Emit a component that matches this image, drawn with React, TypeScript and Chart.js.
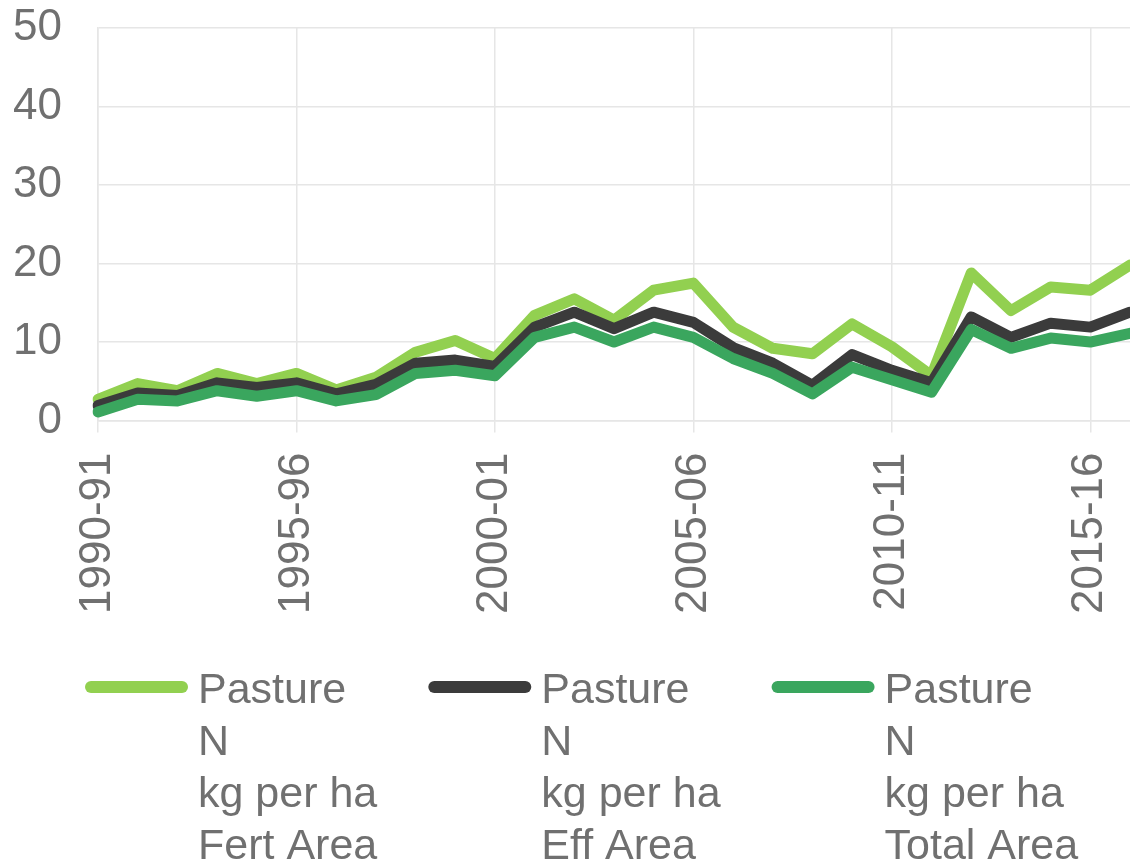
import React, { useEffect, useRef } from 'react';
import { Chart, registerables } from 'chart.js';

Chart.register(...registerables);

const categories = [
  '1990-91', '1991-92', '1992-93', '1993-94', '1994-95',
  '1995-96', '1996-97', '1997-98', '1998-99', '1999-00',
  '2000-01', '2001-02', '2002-03', '2003-04', '2004-05',
  '2005-06', '2006-07', '2007-08', '2008-09', '2009-10',
  '2010-11', '2011-12', '2012-13', '2013-14', '2014-15',
  '2015-16', '2016-17',
];

const fertArea = [
  2.7, 4.7, 3.8, 6.0, 4.7, 6.0, 3.9, 5.5, 8.7, 10.2,
  7.9, 13.4, 15.5, 12.8, 16.6, 17.5, 11.9, 9.2, 8.5, 12.3,
  9.4, 5.7, 18.8, 14.0, 17.0, 16.6, 19.8,
];
const effArea = [
  1.9, 3.5, 3.2, 4.8, 4.2, 4.8, 3.4, 4.6, 7.3, 7.7,
  6.9, 11.9, 13.8, 11.7, 13.8, 12.5, 9.3, 7.3, 4.5, 8.4,
  6.4, 4.8, 13.2, 10.6, 12.4, 11.9, 13.8,
];
const totalArea = [
  1.1, 2.7, 2.5, 3.8, 3.1, 3.8, 2.5, 3.3, 6.0, 6.4,
  5.7, 10.6, 11.9, 10.0, 11.9, 10.6, 7.9, 6.0, 3.4, 6.8,
  5.2, 3.6, 11.6, 9.2, 10.5, 10.0, 11.1,
];

const seriesLabels = [
  ['Pasture', 'N', 'kg per ha', 'Fert Area'],
  ['Pasture', 'N', 'kg per ha', 'Eff Area'],
  ['Pasture', 'N', 'kg per ha', 'Total Area'],
];
const seriesColors = ['#92D050', '#3B3B3B', '#3AA65E'];

const yMin = 0;
const yMax = 50;
const yStep = 10;
const labelEvery = 5;

const FONT = '"Liberation Sans", Arial, Helvetica, sans-serif';
const TEXT_GRAY = '#707070';
const GRID = '#e6e6e6';

const legendPlugin = {
  id: 'multiLineLegend',
  afterDraw(chart: any) {
    const ctx = chart.ctx as CanvasRenderingContext2D;
    ctx.save();
    ctx.font = `43px ${FONT}`;
    ctx.textBaseline = 'middle';
    ctx.textAlign = 'left';
    const top = 691;
    const lineGap = 52;
    let x = 85;
    chart.data.datasets.forEach((ds: any) => {
      ctx.strokeStyle = ds.borderColor;
      ctx.lineWidth = 12;
      ctx.lineCap = 'round';
      ctx.beginPath();
      ctx.moveTo(x + 6, top - 4);
      ctx.lineTo(x + 97, top - 4);
      ctx.stroke();
      ctx.fillStyle = TEXT_GRAY;
      let w = 0;
      (ds.label as string[]).forEach((t: string, j: number) => {
        ctx.fillText(t, x + 113, top + j * lineGap);
        w = Math.max(w, ctx.measureText(t).width);
      });
      x += 113 + w + 51;
    });
    ctx.restore();
  },
};

export default function App() {
  const canvasRef = useRef<HTMLCanvasElement | null>(null);

  useEffect(() => {
    document.body.style.margin = '0';
    const canvas = canvasRef.current;
    if (!canvas) return;
    const values = [fertArea, effArea, totalArea];
    const chart = new Chart(canvas, {
      type: 'line',
      data: {
        labels: categories,
        datasets: values.map((v, i) => ({
          label: seriesLabels[i] as any,
          data: v,
          borderColor: seriesColors[i],
          backgroundColor: seriesColors[i],
          borderWidth: 11,
          pointRadius: 0,
          tension: 0,
          fill: false,
          borderJoinStyle: 'round' as const,
          borderCapStyle: 'round' as const,
          order: 3 - i,
        })),
      },
      options: {
        animation: false,
        responsive: true,
        maintainAspectRatio: false,
        layout: { padding: { left: 10, right: 0, top: 28, bottom: 234 } },
        plugins: {
          legend: { display: false },
          tooltip: { enabled: false },
        },
        scales: {
          x: {
            type: 'category',
            offset: false,
            grid: {
              color: (c: any) => (c.index % labelEvery === 0 ? GRID : 'rgba(0,0,0,0)'),
              lineWidth: 1.5,
              tickLength: 12,
              drawTicks: true,
            },
            border: { color: GRID, width: 1.5 },
            ticks: {
              autoSkip: false,
              maxRotation: 90,
              minRotation: 90,
              padding: 20,
              color: TEXT_GRAY,
              font: { family: FONT, size: 44 },
              callback: (_v: any, i: number) => (i % labelEvery === 0 ? categories[i] : ''),
            },
            afterFit: (scale: any) => {
              scale.paddingLeft = 0;
              scale.paddingRight = 0;
            },
          },
          y: {
            min: yMin,
            max: yMax,
            grid: { color: GRID, lineWidth: 1.5, drawTicks: false },
            border: { color: GRID, width: 1.5 },
            ticks: {
              stepSize: yStep,
              padding: 36,
              color: TEXT_GRAY,
              font: { family: FONT, size: 44 },
            },
            afterFit: (scale: any) => {
              scale.width = 88;
              scale.paddingTop = 0;
              scale.paddingBottom = 0;
            },
          },
        },
      },
      plugins: [legendPlugin],
    });
    return () => chart.destroy();
  }, []);

  return (
    <div style={{ width: 1130, height: 868, position: 'relative', overflow: 'hidden' }}>
      <canvas ref={canvasRef} style={{ display: 'block' }} />
    </div>
  );
}
